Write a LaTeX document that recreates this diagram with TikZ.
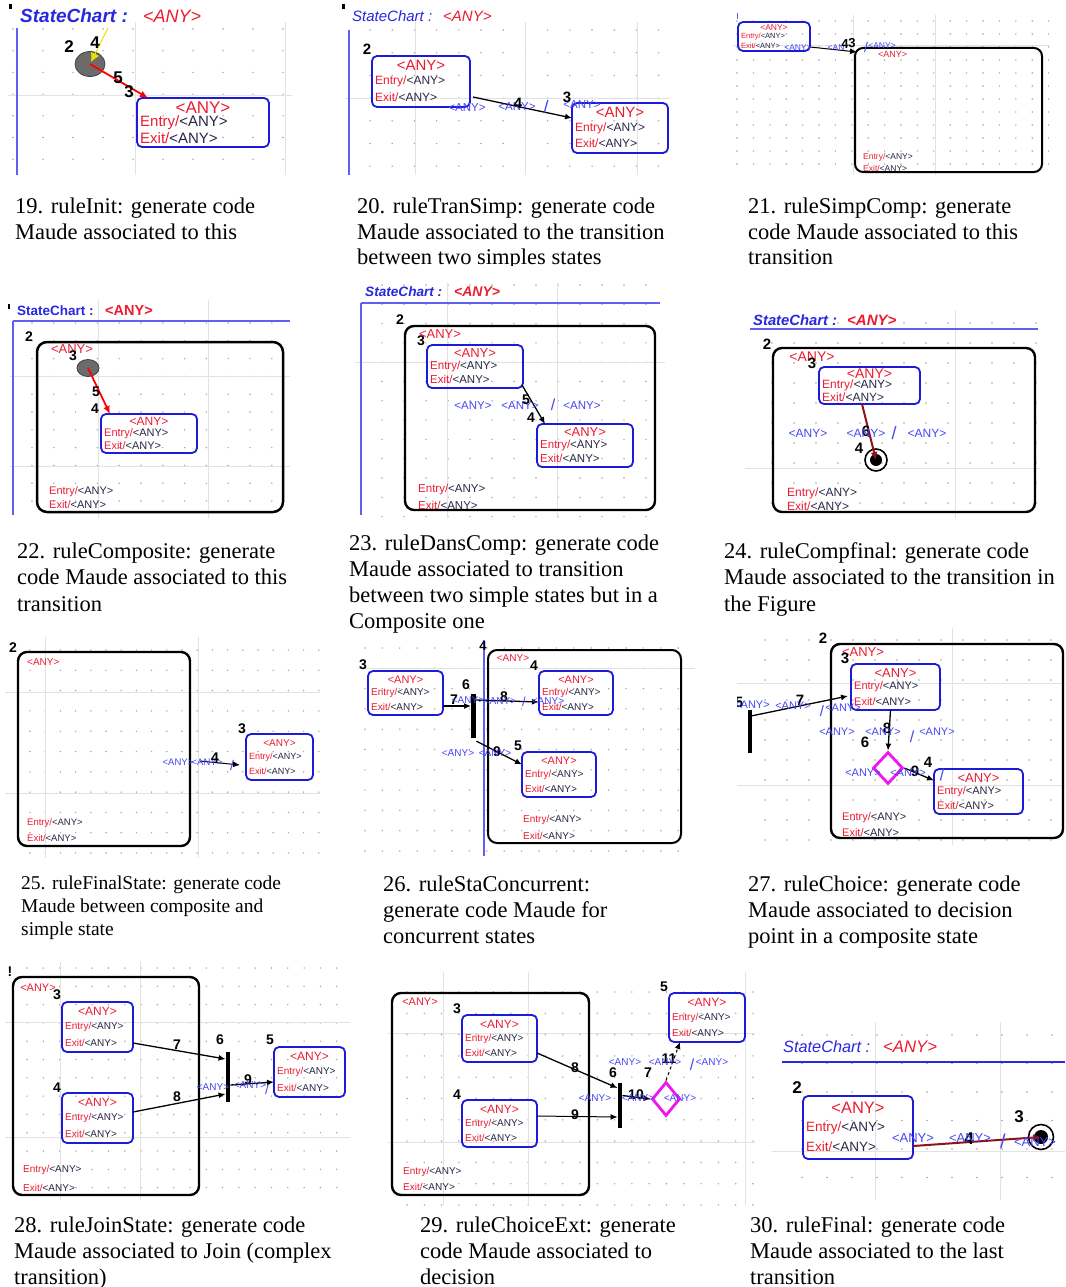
\documentclass[tikz,border=0pt]{standalone}
\usepackage{fontspec}
\setmainfont{Liberation Serif}
\setsansfont{Liberation Sans}
\usetikzlibrary{arrows.meta,shapes.geometric,calc}

\definecolor{sblue}{RGB}{28,28,214}
\definecolor{ared}{RGB}{236,28,48}
\definecolor{lblue}{RGB}{70,70,245}
\definecolor{hblue}{RGB}{40,40,225}
\definecolor{lineblue}{RGB}{95,95,240}
\definecolor{gridgray}{RGB}{226,226,226}
\definecolor{dotgray}{RGB}{165,165,165}
\definecolor{dred}{RGB}{140,20,25}
\definecolor{mag}{RGB}{240,20,240}
\definecolor{yel}{RGB}{235,225,0}
\definecolor{anyc}{RGB}{40,40,70}

\tikzset{
  majl/.style={draw=gridgray, line width=1},
  stboxst/.style={draw=sblue, line width=1.8, rounded corners=5, inner sep=0, outer sep=0},
  compst/.style={draw=black, line width=2.4, rounded corners=9, inner sep=0, outer sep=0},
  inist/.style={ellipse, draw=black!75, fill=black!58, line width=0.8, inner sep=0},
  finst/.style={circle, draw=black, line width=1.6, inner sep=0},
  fbar/.style={fill=black, minimum width=4.5, inner sep=0},
  diam/.style={diamond, draw=mag, line width=2.8, inner sep=0},
  nm/.style={font=\sffamily\bfseries\fontsize{#1}{#1}\selectfont, text=black},
  nm/.default=15,
  bl/.style={text=lblue, font=\sffamily\fontsize{#1}{#1}\selectfont},
  bl/.default=11,
  redt/.style={text=ared, font=\sffamily\fontsize{#1}{#1}\selectfont},
  redt/.default=12,
  et/.style={anchor=west, text=anyc, font=\sffamily\fontsize{#1}{#1}\selectfont},
  et/.default=11,
  hdr/.style={anchor=west, text=hblue, font=\sffamily\itshape\fontsize{#1}{#1}\selectfont},
  hdrb/.style={anchor=west, text=hblue, font=\sffamily\bfseries\itshape\fontsize{#1}{#1}\selectfont},
  hdru/.style={anchor=west, text=hblue, font=\sffamily\bfseries\fontsize{#1}{#1}\selectfont},
  hred/.style={anchor=west, text=ared, font=\sffamily\itshape\fontsize{#1}{#1}\selectfont},
  hredb/.style={anchor=west, text=ared, font=\sffamily\bfseries\itshape\fontsize{#1}{#1}\selectfont},
  hredu/.style={anchor=west, text=ared, font=\sffamily\bfseries\fontsize{#1}{#1}\selectfont},
  tarr/.style={draw=black, line width=1.3, -{Latex[length=7pt,width=6pt]}},
  redar/.style={draw=red, line width=1.8, -{Latex[length=8pt,width=7pt]}},
  dar/.style={draw=dred, line width=2, -{Latex[length=8pt,width=7pt]}},
  captx/.style={anchor=base west, font=\fontsize{22.5}{26}\selectfont},
  captsm/.style={anchor=base west, font=\fontsize{19.5}{23}\selectfont},
}

\newcounter{lbl}
% text label with an automatic name
\newcommand\tx[3][]{\stepcounter{lbl}\node[inner sep=0,#1] (t\arabic{lbl}) at (#2) {#3};}
\newcommand\entx{\textcolor{ared}{Entry/}<ANY>}
\newcommand\exitx{\textcolor{ared}{Exit/}<ANY>}
% dotted background: x0 dx n y0 dy m
\newcommand\pgrid[6]{\foreach \i in {0,...,#3}{\foreach \j in {0,...,#6}{\fill[dotgray] ({#1+\i*#2},{#4+\j*#5}) circle (0.8pt);}}}
% simple state: name x1 y1 x2 y2 title-size line-size
\newcommand\stbox[7]{%
  \node[stboxst, minimum width={#4-#2}, minimum height={#5-#3}] (#1) at ({(#2+#4)/2},{(#3+#5)/2}) {};
  \node[redt=#6, inner sep=0] (#1-t) at ({(#2+#4)/2},{#3+0.19*(#5-#3)}) {<ANY>};
  \node[et=#7, inner sep=0] (#1-en) at ({#2+3},{#3+0.5*(#5-#3)}) {\entx};
  \node[et=#7, inner sep=0] (#1-ex) at ({#2+3},{#3+0.81*(#5-#3)}) {\exitx};
}
% composite state frame: [options] name x1 y1 x2 y2
\newcommand\cbox[6][]{\node[compst,minimum width={#5-#3},minimum height={#6-#4},#1] (#2) at ({(#3+#5)/2},{(#4+#6)/2}) {};}

\begin{document}
\begin{tikzpicture}[x=1pt,y=-1pt]
\useasboundingbox (0,0) rectangle (1065,1287);
\fill[white] (0,0) rectangle (1065,1287);

% ---------------- 19 ----------------
\pgrid{13}{30}{9}{29}{21.7}{6}
\draw[majl] (135,22) -- (135,175); \draw[majl] (285,22) -- (285,175); \draw[majl] (8,96) -- (292,96);
\fill[black] (9,4) rectangle (11.5,9);
\tx[hdrb=19]{20,16}{StateChart :}
\tx[hred=18]{143,16}{<ANY>}
\draw[lineblue, line width=1.5] (17,28) -- (17,175);
\node[inist, minimum width=30, minimum height=25] (i19) at (90,64) {};
\coordinate (y19) at (108,28);
\draw[yel, line width=1, -{Latex[length=9pt,width=9pt]}] (y19) -- ($(i19.center)+(1,-2)$);
\stbox{b19}{137}{98}{269}{147}{17}{15}
\draw[redar] (i19.center) -- ($(b19.north west)+(11,0)$);
\tx[nm=17]{69,47}{2} \tx[nm=17]{95,43}{4}
\tx[nm=17]{118,78}{5} \tx[nm=17]{129,92}{3}

% ---------------- 20 ----------------
\pgrid{370}{22.2}{13}{30}{22.7}{6}
\draw[majl] (415,22) -- (415,175); \draw[majl] (525,22) -- (525,175); \draw[majl] (637,22) -- (637,175); \draw[majl] (345,99) -- (670,99);
\fill[black] (342,4) rectangle (344.5,9);
\tx[hdr=15]{352,16}{StateChart :}
\tx[hred=15]{443,16}{<ANY>}
\draw[lineblue, line width=1.5] (349,30) -- (349,175);
\stbox{b20a}{372}{56}{470}{107}{15}{12}
\stbox{b20b}{572}{103}{668}{153}{15}{12}
\tx[nm=15]{367,49}{2} \tx[nm=15]{567,97}{3}
\draw[tarr] ($(b20a.south east)+(3,-10)$) -- ($(b20b.west)+(0,-10)$);
\tx[bl=11.5]{467,108}{<ANY>} \tx[bl=11.5]{517,107}{<ANY>} \tx[nm=15]{518,103}{4}
\tx[bl=18]{546,107}{/} \tx[bl=11.5]{582,105}{<ANY>}

% ---------------- 21 ----------------
\pgrid{737}{16.4}{19}{21}{13}{11}
\draw[majl] (853,15) -- (853,175); \draw[majl] (935,15) -- (935,175); \draw[majl] (733,46) -- (1050,46);
\draw[lineblue, line width=1] (737,13) -- (737,19);
\stbox{b21}{738}{22}{810}{51}{8.5}{7.5}
\cbox[line width=2, rounded corners=8]{c21}{855}{48}{1042}{172}
\tx[redt=9, anchor=west]{878,54}{<ANY>}
\tx[et=8.5]{863,157}{\entx} \tx[et=8.5]{863,168}{\exitx}
\draw[tarr, line width=1] ($(b21.south east)+(0,-4)$) -- ($(c21.north west)+(2,4)$);
\tx[bl=8.5]{798,48}{<ANY>} \tx[bl=8.5]{836,48}{<AN} \tx[nm=13]{845,44}{4} \tx[nm=13]{852,43}{3}
\tx[bl=14]{866,47}{/} \tx[bl=8.5]{882,46}{<ANY>}

% ---------------- 22 ----------------
\pgrid{32}{21.8}{11}{323}{17.8}{10}
\draw[majl] (98,300) -- (98,518); \draw[majl] (208,300) -- (208,518); \draw[majl] (10,376) -- (290,376); \draw[majl] (10,466) -- (290,466);
\fill[black] (8,304) rectangle (10,309);
\tx[hdru=13.5]{17,311}{StateChart :}
\tx[hredu=14.5]{105,311}{<ANY>}
\draw[lineblue, line width=2] (13,321) -- (290,321); \draw[lineblue, line width=1.5] (13,321) -- (13,515);
\cbox[line width=2.5, rounded corners=10]{c22}{37}{342}{283}{512}
\tx[nm=14]{29,337}{2}
\tx[redt=13]{72,349}{<ANY>}
\tx[nm=14]{73,356}{3}
\node[inist, minimum width=22, minimum height=17] (i22) at (88,368) {};
\stbox{b22}{101}{414}{197}{453}{12}{11}
\draw[redar] (i22.center) -- ($(b22.north west)+(9,0)$);
\tx[nm=14]{96,392}{5} \tx[nm=14]{95,409}{4}
\tx[et=11]{49,492}{\entx} \tx[et=11]{49,505}{\exitx}

% ---------------- 23 ----------------
\pgrid{382}{22}{12}{285}{19.3}{12}
\draw[majl] (447,283) -- (447,518); \draw[majl] (557,283) -- (557,518); \draw[majl] (355,362) -- (665,362);
\tx[hdrb=13.6]{365,292}{StateChart :}
\tx[hredb=14]{454,292}{<ANY>}
\draw[lineblue, line width=2] (361,303) -- (660,303); \draw[lineblue, line width=1.5] (361,303) -- (361,515);
\cbox{c23}{405}{326}{655}{510}
\tx[nm=14]{400,320}{2}
\tx[redt=13]{440,334}{<ANY>}
\tx[nm=14]{421,341}{3}
\stbox{b23a}{427}{345}{523}{388}{13}{11.5}
\stbox{b23b}{537}{424}{633}{467}{13}{11.5}
\tx[nm=14]{531,418}{4}
\draw[tarr] ($(b23a.south east)+(-1,-3)$) -- ($(b23b.north west)+(8,0)$);
\tx[bl=11.5]{473,406}{<ANY>} \tx[bl=11.5]{520,406}{<ANY>} \tx[nm=14]{526,400}{5}
\tx[bl=16]{553,405}{/} \tx[bl=11.5]{582,406}{<ANY>}
\tx[et=11.5]{418,490}{\entx} \tx[et=11.5]{418,505}{\exitx}

% ---------------- 24 ----------------
\pgrid{772}{22}{12}{323}{20}{9}
\draw[majl] (955,310) -- (955,518); \draw[majl] (745,468) -- (1040,468);
\tx[hdrb=14.8]{753,320}{StateChart :}
\tx[hredb=15]{847,320}{<ANY>}
\draw[lineblue, line width=2] (750,329) -- (1038,329);
\cbox{c24}{773}{348}{1035}{512}
\tx[nm=15]{767,344}{2}
\tx[redt=14]{812,357}{<ANY>}
\tx[nm=15]{812,363}{3}
\stbox{b24}{819}{367}{920}{404}{14}{12}
\node[finst, minimum size=22] (f24) at (876,460) {};
\fill[black] (f24.center) circle (6pt);
\draw[dar] ($(b24.south west)+(43,0)$) -- (f24.center);
\tx[nm=15]{866,431}{6} \tx[nm=15]{859,448}{4}
\tx[bl=12]{808,433}{<ANY>} \tx[bl=12]{866,433}{<ANY>} \tx[bl=18]{894,433}{/} \tx[bl=12]{927,433}{<ANY>}
\tx[et=12]{787,493}{\entx} \tx[et=12]{787,506}{\exitx}

% ---------------- 25 ----------------
\pgrid{30}{15.2}{19}{650}{20.3}{10}
\draw[majl] (45,637) -- (45,858); \draw[majl] (198,637) -- (198,858); \draw[majl] (5,692) -- (320,692); \draw[majl] (5,793) -- (320,793);
\tx[nm=14]{13,648}{2}
\cbox{c25}{18}{652}{190}{846}
\tx[redt=10, anchor=west]{27,662}{<ANY>}
\tx[et=9.5]{27,823}{\entx} \tx[et=9.5]{27,838}{\exitx}
\stbox{b25}{246}{734}{313}{780}{10}{9}
\tx[nm=14]{242,729}{3}
\draw[tarr, line width=1] ($(c25.east)+(10,12)$) -- ($(b25.west)+(-6,8)$);
\tx[bl=9.5]{178,762}{<ANY>} \tx[bl=9.5]{207,762}{<ANY>} \tx[nm=14]{215,758}{4} \tx[bl=14]{232,765}{/}

% ---------------- 26 ----------------
\pgrid{365}{17.4}{18}{648}{20.3}{10}
\draw[majl] (358,668) -- (695,668);
\draw[lineblue, line width=1.5] (484,640) -- (484,856);
\tx[nm=13]{483,646}{4}
\tx[nm=14]{363,665}{3}
\stbox{b26a}{368}{671}{443}{715}{11}{10}
\node[fbar, minimum height=44] (bar26) at (473.5,716) {};
\tx[nm=14]{466,685}{6}
\cbox[line width=2]{c26}{488}{650}{681}{843}
\tx[redt=10]{513,658}{<ANY>}
\tx[nm=14]{534,666}{4}
\stbox{b26b}{539}{671}{613}{715}{11}{10}
\stbox{b26c}{522}{752}{596}{797}{11}{10}
\draw[tarr] ($(b26a.east)+(0,13)$) -- ($(bar26.west)+(0,-10)$);
\tx[nm=14]{454,700}{7}
\draw[tarr] ($(bar26.east)+(0,-16)$) -- ($(b26b.west)+(0,9)$);
\tx[nm=14]{504,697}{8}
\tx[bl=10]{468,700}{<ANY>} \tx[bl=10]{500,701}{<ANY>} \tx[bl=13]{524,702}{/} \tx[bl=10]{548,701}{<ANY>}
\draw[tarr] ($(bar26.south)+(3,3)$) -- ($(b26c.west)+(0,-10)$);
\tx[nm=14]{497,752}{9} \tx[nm=14]{518,746}{5}
\tx[bl=10]{458,753}{<ANY>} \tx[bl=10]{495,753}{<ANY>}
\tx[et=10]{523,820}{\entx} \tx[et=10]{523,836}{\exitx}

% ---------------- 27 ----------------
\begin{scope}
\clip (737,626) rectangle (1065,845);
\pgrid{765}{22}{13}{640}{20}{10}
\draw[majl] (952,628) -- (952,845); \draw[majl] (737,683) -- (1065,683); \draw[majl] (737,785) -- (1065,785);
\tx[nm=15]{823,638}{2}
\cbox{c27}{831}{644}{1063}{838}
\tx[redt=13]{863,652}{<ANY>}
\tx[nm=15]{845,658}{3}
\stbox{b27a}{851}{664}{940}{710}{13}{11}
\node[fbar, minimum height=43] (bar27) at (750,731.5) {};
\tx[nm=15]{739,702}{5}
\tx[bl=11]{752,705}{<ANY>}
\draw[tarr] ($(bar27.north)+(2,6)$) -- ($(b27a.west)+(-3,9)$);
\tx[nm=15]{800,700}{7}
\tx[bl=11]{793,706}{<ANY>} \tx[bl=15]{822,711}{/} \tx[bl=11]{843,708}{<ANY>}
\node[diam, minimum width=30, minimum height=32] (d27) at (888,768) {};
\draw[tarr] ($(b27a.south)+(-5,0)$) -- (d27.north);
\tx[nm=15]{887,728}{8} \tx[nm=15]{865,742}{6}
\tx[bl=11]{837,732}{<ANY>} \tx[bl=11]{883,732}{<ANY>} \tx[bl=16]{912,737}{/} \tx[bl=11]{937,732}{<ANY>}
\stbox{b27b}{934}{769}{1023}{814}{13}{11}
\draw[tarr] (d27.east) -- ($(b27b.west)+(0,-11)$);
\tx[nm=15]{915,771}{9} \tx[nm=15]{928,762}{4}
\tx[bl=11]{863,773}{<ANY>} \tx[bl=11]{908,773}{<ANY>} \tx[bl=16]{942,775}{/}
\tx[et=11]{842,818}{\entx} \tx[et=11]{842,833}{\exitx}
\end{scope}

% ---------------- 28 ----------------
\pgrid{27}{16.3}{19}{968}{18.3}{12}
\draw[majl] (60,962) -- (60,1200); \draw[majl] (140,962) -- (140,1200); \draw[majl] (5,1022) -- (350,1022); \draw[majl] (5,1137) -- (350,1137);
\tx[nm=14]{10,972}{!}
\cbox{c28}{13}{977}{199}{1195}
\tx[redt=11]{38,988}{<ANY>} \tx[nm=14]{57,995}{3}
\stbox{b28a}{62}{1002}{133}{1052}{12}{10}
\stbox{b28b}{62}{1093}{133}{1143}{12}{10}
\tx[nm=14]{57,1088}{4}
\node[fbar, minimum height=50] (bar28) at (228,1077) {};
\tx[nm=14]{220,1040}{6}
\stbox{b28c}{274}{1047}{345}{1097}{12}{10}
\tx[nm=14]{270,1040}{5}
\draw[tarr] ($(b28a.east)+(0,16)$) -- ($(bar28.west)+(0,-18)$);
\tx[nm=14]{177,1045}{7}
\draw[tarr] ($(b28b.east)+(0,-6)$) -- ($(bar28.west)+(0,17)$);
\tx[nm=14]{177,1097}{8}
\draw[tarr] ($(bar28.east)+(0,8)$) -- ($(b28c.west)+(0,10)$);
\tx[nm=14]{248,1080}{9}
\tx[bl=10]{213,1087}{<ANY>} \tx[bl=10]{250,1085}{<ANY>} \tx[bl=13]{267,1090}{/}
\tx[et=10]{23,1170}{\entx} \tx[et=10]{23,1188}{\exitx}

% ---------------- 29 ----------------
\pgrid{407}{17.3}{20}{992}{21.3}{10}
\draw[majl] (443,972) -- (443,1205); \draw[majl] (528,972) -- (528,1205); \draw[majl] (745,972) -- (745,1205);
\draw[majl] (388,1033) -- (755,1033); \draw[majl] (388,1142) -- (755,1142);
\cbox{c29}{392}{993}{589}{1195}
\tx[redt=11]{420,1002}{<ANY>}
\stbox{b29a}{462}{1015}{537}{1062}{12}{10}
\tx[nm=14]{457,1009}{3}
\stbox{b29b}{462}{1100}{537}{1147}{12}{10}
\tx[nm=14]{457,1095}{4}
\node[fbar, minimum height=45] (bar29) at (620,1105.5) {};
\tx[nm=14]{613,1073}{6}
\stbox{b29c}{669}{993}{745}{1042}{12}{10}
\tx[nm=14]{664,987}{5}
\node[diam, minimum width=28, minimum height=34] (d29) at (666,1099) {};
\draw[tarr] ($(b29a.east)+(0,14.5)$) -- ($(bar29.west)+(0,-17.5)$);
\tx[nm=14]{575,1068}{8}
\draw[tarr, line width=1] ($(b29b.east)+(0,-7.5)$) -- ($(bar29.west)+(0,11.5)$);
\tx[nm=14]{575,1115}{9}
\draw[tarr] ($(bar29.east)+(0,-10)$) -- (d29.west);
\tx[nm=14]{636,1095}{10}
\tx[nm=14]{648,1073}{7}
\draw[tarr, dashed, line width=1] (d29.north) -- ($(b29c.south)+(-27,0)$);
\tx[nm=14]{669,1059}{11}
\tx[bl=10]{625,1062}{<ANY>} \tx[bl=10]{665,1062}{<ANY>} \tx[bl=16]{692,1065}{/} \tx[bl=10]{712,1062}{<ANY>}
\tx[bl=10]{595,1098}{<ANY>} \tx[bl=10]{638,1098}{<ANY>} \tx[bl=10]{680,1098}{<ANY>}
\tx[et=10]{403,1172}{\entx} \tx[et=10]{403,1187}{\exitx}

% ---------------- 30 ----------------
\pgrid{802}{25}{10}{1035}{28.5}{5}
\draw[majl] (875,1022) -- (875,1200); \draw[majl] (1000,1022) -- (1000,1200); \draw[majl] (772,1151) -- (1065,1151);
\tx[hdr=16.3]{783,1047}{StateChart :}
\tx[hred=16.7]{883,1047}{<ANY>}
\draw[hblue, line width=1.5] (782,1062) -- (1065,1062);
\stbox{b30}{803}{1096}{913}{1159}{16.5}{13.5}
\tx[nm=17]{797,1088}{2}
\node[finst, minimum size=25] (f30) at (1041,1137) {};
\fill[black] (f30.center) circle (7pt);
\tx[nm=17]{1019,1117}{3}
\draw[dar] ($(b30.east)+(0,18.5)$) -- (f30.center);
\tx[nm=17]{969,1139}{4}
\tx[bl=13]{913,1138}{<ANY>} \tx[bl=13]{970,1138}{<ANY>} \tx[bl=20]{1003,1141}{/} \tx[bl=13]{1035,1142}{<ANY>}

% ---------------- captions ----------------
\begin{scope}
\clip (0,180) rectangle (1065,265);
\tx[captx]{15,213}{19. ruleInit: generate code}
\tx[captx]{15,239}{Maude associated to this}
\tx[captx]{357,213}{20. ruleTranSimp: generate code}
\tx[captx]{357,239}{Maude associated to the transition}
\tx[captx]{357,264}{between two simples states}
\tx[captx]{748,213}{21. ruleSimpComp: generate}
\tx[captx]{748,239}{code Maude associated to this}
\tx[captx]{748,264}{transition}
\end{scope}

\tx[captx]{17,558}{22. ruleComposite: generate}
\tx[captx]{17,584}{code Maude associated to this}
\tx[captx]{17,611}{transition}
\tx[captx]{349,550}{23. ruleDansComp: generate code}
\tx[captx]{349,576}{Maude associated to transition}
\tx[captx]{349,602}{between two simple states but in a}
\tx[captx]{349,628}{Composite one}
\tx[captx]{724,558}{24. ruleCompfinal: generate code}
\tx[captx]{724,584}{Maude associated to the transition in}
\tx[captx]{724,611}{the Figure}

\tx[captsm]{21,889}{25. ruleFinalState: generate code}
\tx[captsm]{21,912}{Maude between composite and}
\tx[captsm]{21,935}{simple state}
\tx[captx]{383,891}{26. ruleStaConcurrent:}
\tx[captx]{383,917}{generate code Maude for}
\tx[captx]{383,943}{concurrent states}
\tx[captx]{748,891}{27. ruleChoice: generate code}
\tx[captx]{748,917}{Maude associated to decision}
\tx[captx]{748,943}{point in a composite state}

\tx[captx]{14,1232}{28. ruleJoinState: generate code}
\tx[captx]{14,1258}{Maude associated to Join (complex}
\tx[captx]{14,1284}{transition)}
\tx[captx]{420,1232}{29. ruleChoiceExt: generate}
\tx[captx]{420,1258}{code Maude associated to}
\tx[captx]{420,1284}{decision}
\tx[captx]{750,1232}{30. ruleFinal: generate code}
\tx[captx]{750,1258}{Maude associated to the last}
\tx[captx]{750,1284}{transition}
\end{tikzpicture}
\end{document}
